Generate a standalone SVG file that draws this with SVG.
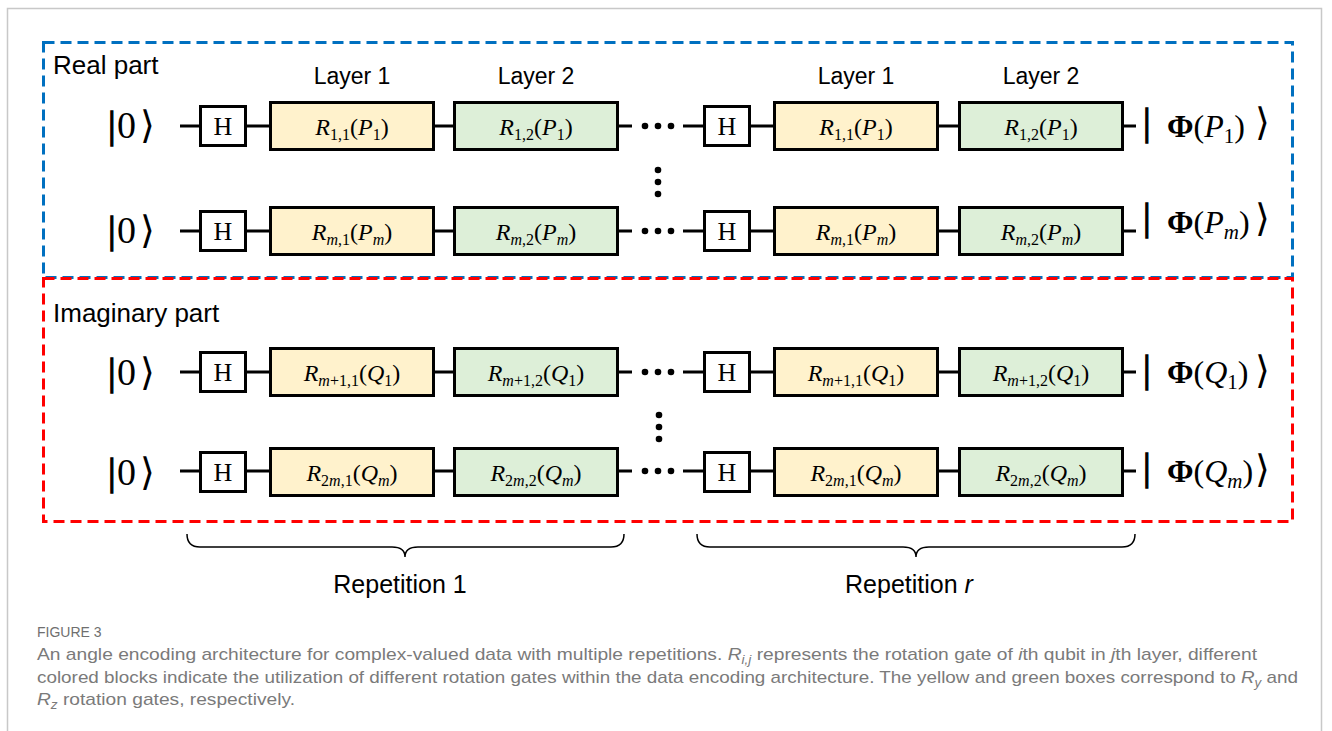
<svg xmlns="http://www.w3.org/2000/svg" width="1332" height="731" viewBox="0 0 1332 731">
<style>
.w{stroke:#000;stroke-width:3;fill:none}
.hb{fill:#fff;stroke:#000;stroke-width:3}
.yb{fill:#FFF2CC;stroke:#000;stroke-width:3}
.gb{fill:#DDEFD8;stroke:#000;stroke-width:3}
.m{font-family:"Liberation Serif","Times New Roman",serif;font-size:24px;fill:#000}
.h{font-size:26px}
.i{font-style:italic}
.s{font-size:16px}
.k{font-family:"Liberation Serif","DejaVu Serif","DejaVu Sans",serif;font-size:38px;fill:#000}
.bar{stroke:#000;stroke-width:1.3}
.o{font-family:"Liberation Serif","DejaVu Serif",serif;font-size:32px;fill:#000}
.s2{font-size:21px}
.br{font-family:"DejaVu Sans","Liberation Serif",serif;font-size:38px}
.sans{font-family:"Liberation Sans",Arial,sans-serif;fill:#000}
.cap{font-family:"Liberation Sans",Arial,sans-serif;fill:#7a7a7a;font-size:17px}
.dot{fill:#000}
</style>
<rect x="0" y="0" width="1332" height="731" fill="#fff"/>
<path d="M7.5,740 V8.5 H1321.5 V740" fill="none" stroke="#c8c8c8" stroke-width="1.5"/>

<g id="real-part">
<rect x="43.5" y="42.5" width="1249" height="235" fill="none" stroke="#0070C0" stroke-width="3" stroke-dasharray="11 6"/>
<text class="sans" x="53" y="74" font-size="26">Real part</text>
</g>
<g id="imag-part">
<rect x="43.5" y="278.5" width="1249" height="243" fill="none" stroke="#FF0000" stroke-width="3" stroke-dasharray="11 6"/>
<text class="sans" x="53" y="322" font-size="26">Imaginary part</text>
</g>

<g id="layer-labels" class="sans" font-size="23" text-anchor="middle">
<text x="352" y="84">Layer 1</text>
<text x="536" y="84">Layer 2</text>
<text x="856" y="84">Layer 1</text>
<text x="1041" y="84">Layer 2</text>
</g>

<g id="connectors">
<g class="w">
<path d="M180,126H201M246,126H271M434,126H455M618,126H632M683,126H705M748,126H775M938,126H960M1123,126H1136"/>
<path d="M180,231H201M246,231H271M434,231H455M618,231H632M683,231H705M748,231H775M938,231H960M1123,231H1136"/>
<path d="M180,372H201M246,372H271M434,372H455M618,372H632M683,372H705M748,372H775M938,372H960M1123,372H1136"/>
<path d="M180,471H201M246,471H271M434,471H455M618,471H632M683,471H705M748,471H775M938,471H960M1123,471H1136"/>
</g>
<g class="dot">
<circle cx="645" cy="126" r="3.3"/><circle cx="658" cy="126" r="3.3"/><circle cx="671" cy="126" r="3.3"/>
<circle cx="645" cy="231" r="3.3"/><circle cx="658" cy="231" r="3.3"/><circle cx="671" cy="231" r="3.3"/>
<circle cx="645" cy="372" r="3.3"/><circle cx="658" cy="372" r="3.3"/><circle cx="671" cy="372" r="3.3"/>
<circle cx="645" cy="471" r="3.3"/><circle cx="658" cy="471" r="3.3"/><circle cx="671" cy="471" r="3.3"/>
<circle cx="658" cy="170" r="3.3"/><circle cx="658" cy="182" r="3.3"/><circle cx="658" cy="194" r="3.3"/>
<circle cx="659" cy="415" r="3.3"/><circle cx="659" cy="427" r="3.3"/><circle cx="659" cy="439" r="3.3"/>
</g>
</g>

<!-- Row 1 -->
<g id="in1"><text class="k" y="138"><tspan class="bar" x="108">|</tspan><tspan x="117">0</tspan><tspan class="br" x="140">⟩</tspan></text></g>
<g id="h1a"><rect class="hb" x="200.5" y="106.5" width="45" height="39"/><text class="m h" x="223" y="135" text-anchor="middle">H</text></g>
<g id="r11a"><rect class="yb" x="270.5" y="102.5" width="163" height="47"/><text class="m" x="352" y="135" text-anchor="middle"><tspan class="i">R</tspan><tspan class="s" dy="5">1,1</tspan><tspan dy="-5">(</tspan><tspan class="i">P</tspan><tspan class="s" dy="5">1</tspan><tspan dy="-5">)</tspan></text></g>
<g id="r12a"><rect class="gb" x="454.5" y="102.5" width="163" height="47"/><text class="m" x="536" y="135" text-anchor="middle"><tspan class="i">R</tspan><tspan class="s" dy="5">1,2</tspan><tspan dy="-5">(</tspan><tspan class="i">P</tspan><tspan class="s" dy="5">1</tspan><tspan dy="-5">)</tspan></text></g>
<g id="h1b"><rect class="hb" x="704.5" y="106.5" width="45" height="39"/><text class="m h" x="727" y="135" text-anchor="middle">H</text></g>
<g id="r11b"><rect class="yb" x="774.5" y="102.5" width="163" height="47"/><text class="m" x="856" y="135" text-anchor="middle"><tspan class="i">R</tspan><tspan class="s" dy="5">1,1</tspan><tspan dy="-5">(</tspan><tspan class="i">P</tspan><tspan class="s" dy="5">1</tspan><tspan dy="-5">)</tspan></text></g>
<g id="r12b"><rect class="gb" x="959.5" y="102.5" width="163" height="47"/><text class="m" x="1041" y="135" text-anchor="middle"><tspan class="i">R</tspan><tspan class="s" dy="5">1,2</tspan><tspan dy="-5">(</tspan><tspan class="i">P</tspan><tspan class="s" dy="5">1</tspan><tspan dy="-5">)</tspan></text></g>
<g id="out1"><text class="k bar" x="1143" y="135">|</text><text class="o" x="1167" y="137"><tspan font-weight="bold">Φ</tspan>(<tspan class="i">P</tspan><tspan class="s2" dy="6">1</tspan><tspan dy="-6">)</tspan></text><text class="k br" x="1255" y="135">⟩</text></g>

<!-- Row 2 -->
<g id="in2"><text class="k" y="243"><tspan class="bar" x="108">|</tspan><tspan x="117">0</tspan><tspan class="br" x="140">⟩</tspan></text></g>
<g id="h2a"><rect class="hb" x="200.5" y="211.5" width="45" height="39"/><text class="m h" x="223" y="240" text-anchor="middle">H</text></g>
<g id="rm1a"><rect class="yb" x="270.5" y="207.5" width="163" height="47"/><text class="m" x="352" y="240" text-anchor="middle"><tspan class="i">R</tspan><tspan class="s" dy="5"><tspan class="i">m</tspan>,1</tspan><tspan dy="-5">(</tspan><tspan class="i">P</tspan><tspan class="s i" dy="5">m</tspan><tspan dy="-5">)</tspan></text></g>
<g id="rm2a"><rect class="gb" x="454.5" y="207.5" width="163" height="47"/><text class="m" x="536" y="240" text-anchor="middle"><tspan class="i">R</tspan><tspan class="s" dy="5"><tspan class="i">m</tspan>,2</tspan><tspan dy="-5">(</tspan><tspan class="i">P</tspan><tspan class="s i" dy="5">m</tspan><tspan dy="-5">)</tspan></text></g>
<g id="h2b"><rect class="hb" x="704.5" y="211.5" width="45" height="39"/><text class="m h" x="727" y="240" text-anchor="middle">H</text></g>
<g id="rm1b"><rect class="yb" x="774.5" y="207.5" width="163" height="47"/><text class="m" x="856" y="240" text-anchor="middle"><tspan class="i">R</tspan><tspan class="s" dy="5"><tspan class="i">m</tspan>,1</tspan><tspan dy="-5">(</tspan><tspan class="i">P</tspan><tspan class="s i" dy="5">m</tspan><tspan dy="-5">)</tspan></text></g>
<g id="rm2b"><rect class="gb" x="959.5" y="207.5" width="163" height="47"/><text class="m" x="1041" y="240" text-anchor="middle"><tspan class="i">R</tspan><tspan class="s" dy="5"><tspan class="i">m</tspan>,2</tspan><tspan dy="-5">(</tspan><tspan class="i">P</tspan><tspan class="s i" dy="5">m</tspan><tspan dy="-5">)</tspan></text></g>
<g id="out2"><text class="k bar" x="1143" y="230">|</text><text class="o" x="1167" y="233"><tspan font-weight="bold">Φ</tspan>(<tspan class="i">P</tspan><tspan class="s2 i" dy="6">m</tspan><tspan dy="-6">)</tspan></text><text class="k br" x="1255" y="231">⟩</text></g>

<!-- Row 3 -->
<g id="in3"><text class="k" y="385"><tspan class="bar" x="108">|</tspan><tspan x="117">0</tspan><tspan class="br" x="140">⟩</tspan></text></g>
<g id="h3a"><rect class="hb" x="200.5" y="352.5" width="45" height="39"/><text class="m h" x="223" y="381" text-anchor="middle">H</text></g>
<g id="rq11a"><rect class="yb" x="270.5" y="348.5" width="163" height="47"/><text class="m" x="352" y="381" text-anchor="middle"><tspan class="i">R</tspan><tspan class="s" dy="5"><tspan class="i">m</tspan>+1,1</tspan><tspan dy="-5">(</tspan><tspan class="i">Q</tspan><tspan class="s" dy="5">1</tspan><tspan dy="-5">)</tspan></text></g>
<g id="rq12a"><rect class="gb" x="454.5" y="348.5" width="163" height="47"/><text class="m" x="536" y="381" text-anchor="middle"><tspan class="i">R</tspan><tspan class="s" dy="5"><tspan class="i">m</tspan>+1,2</tspan><tspan dy="-5">(</tspan><tspan class="i">Q</tspan><tspan class="s" dy="5">1</tspan><tspan dy="-5">)</tspan></text></g>
<g id="h3b"><rect class="hb" x="704.5" y="352.5" width="45" height="39"/><text class="m h" x="727" y="381" text-anchor="middle">H</text></g>
<g id="rq11b"><rect class="yb" x="774.5" y="348.5" width="163" height="47"/><text class="m" x="856" y="381" text-anchor="middle"><tspan class="i">R</tspan><tspan class="s" dy="5"><tspan class="i">m</tspan>+1,1</tspan><tspan dy="-5">(</tspan><tspan class="i">Q</tspan><tspan class="s" dy="5">1</tspan><tspan dy="-5">)</tspan></text></g>
<g id="rq12b"><rect class="gb" x="959.5" y="348.5" width="163" height="47"/><text class="m" x="1041" y="381" text-anchor="middle"><tspan class="i">R</tspan><tspan class="s" dy="5"><tspan class="i">m</tspan>+1,2</tspan><tspan dy="-5">(</tspan><tspan class="i">Q</tspan><tspan class="s" dy="5">1</tspan><tspan dy="-5">)</tspan></text></g>
<g id="out3"><text class="k bar" x="1143" y="382">|</text><text class="o" x="1167" y="383"><tspan font-weight="bold">Φ</tspan>(<tspan class="i">Q</tspan><tspan class="s2" dy="6">1</tspan><tspan dy="-6">)</tspan></text><text class="k br" x="1255" y="383">⟩</text></g>

<!-- Row 4 -->
<g id="in4"><text class="k" y="485"><tspan class="bar" x="108">|</tspan><tspan x="117">0</tspan><tspan class="br" x="140">⟩</tspan></text></g>
<g id="h4a"><rect class="hb" x="200.5" y="452.5" width="45" height="39"/><text class="m h" x="223" y="481" text-anchor="middle">H</text></g>
<g id="rq21a"><rect class="yb" x="270.5" y="448.5" width="163" height="47"/><text class="m" x="352" y="481" text-anchor="middle"><tspan class="i">R</tspan><tspan class="s" dy="5">2<tspan class="i">m</tspan>,1</tspan><tspan dy="-5">(</tspan><tspan class="i">Q</tspan><tspan class="s i" dy="5">m</tspan><tspan dy="-5">)</tspan></text></g>
<g id="rq22a"><rect class="gb" x="454.5" y="448.5" width="163" height="47"/><text class="m" x="536" y="481" text-anchor="middle"><tspan class="i">R</tspan><tspan class="s" dy="5">2<tspan class="i">m</tspan>,2</tspan><tspan dy="-5">(</tspan><tspan class="i">Q</tspan><tspan class="s i" dy="5">m</tspan><tspan dy="-5">)</tspan></text></g>
<g id="h4b"><rect class="hb" x="704.5" y="452.5" width="45" height="39"/><text class="m h" x="727" y="481" text-anchor="middle">H</text></g>
<g id="rq21b"><rect class="yb" x="774.5" y="448.5" width="163" height="47"/><text class="m" x="856" y="481" text-anchor="middle"><tspan class="i">R</tspan><tspan class="s" dy="5">2<tspan class="i">m</tspan>,1</tspan><tspan dy="-5">(</tspan><tspan class="i">Q</tspan><tspan class="s i" dy="5">m</tspan><tspan dy="-5">)</tspan></text></g>
<g id="rq22b"><rect class="gb" x="959.5" y="448.5" width="163" height="47"/><text class="m" x="1041" y="481" text-anchor="middle"><tspan class="i">R</tspan><tspan class="s" dy="5">2<tspan class="i">m</tspan>,2</tspan><tspan dy="-5">(</tspan><tspan class="i">Q</tspan><tspan class="s i" dy="5">m</tspan><tspan dy="-5">)</tspan></text></g>
<g id="out4"><text class="k bar" x="1143" y="480">|</text><text class="o" x="1167" y="482"><tspan font-weight="bold">Φ</tspan>(<tspan class="i">Q</tspan><tspan class="s2 i" dy="6">m</tspan><tspan dy="-6">)</tspan></text><text class="k br" x="1255" y="482">⟩</text></g>

<g id="rep1">
<path d="M187,534 Q187,547 200,547 L392,547 Q405,547 405,557 Q405,547 418,547 L611,547 Q624,547 624,534" fill="none" stroke="#000" stroke-width="1.5"/>
<text class="sans" x="400" y="593" font-size="25" text-anchor="middle">Repetition 1</text>
</g>
<g id="repr">
<path d="M697,534 Q697,547 710,547 L903,547 Q916,547 916,557 Q916,547 929,547 L1122,547 Q1135,547 1135,534" fill="none" stroke="#000" stroke-width="1.5"/>
<text class="sans" x="909" y="593" font-size="25" text-anchor="middle">Repetition <tspan font-style="italic">r</tspan></text>
</g>

<g id="caption">
<text x="37" y="637" font-family="Liberation Sans,Arial,sans-serif" font-size="14" fill="#6f6f6f">FIGURE 3</text>
<text class="cap" x="37" y="660" textLength="1220" lengthAdjust="spacingAndGlyphs">An angle encoding architecture for complex-valued data with multiple repetitions. <tspan font-style="italic">R</tspan><tspan font-style="italic" font-size="12" dy="4">i,j</tspan><tspan dy="-4"> represents the rotation gate of </tspan><tspan font-style="italic">i</tspan>th qubit in <tspan font-style="italic">j</tspan>th layer, different</text>
<text class="cap" x="37" y="683" textLength="1261" lengthAdjust="spacingAndGlyphs">colored blocks indicate the utilization of different rotation gates within the data encoding architecture. The yellow and green boxes correspond to <tspan font-style="italic">R</tspan><tspan font-style="italic" font-size="12" dy="4">y</tspan><tspan dy="-4"> and</tspan></text>
<text class="cap" x="37" y="705" textLength="258" lengthAdjust="spacingAndGlyphs"><tspan font-style="italic">R</tspan><tspan font-style="italic" font-size="12" dy="4">z</tspan><tspan dy="-4"> rotation gates, respectively.</tspan></text>
</g>
</svg>
